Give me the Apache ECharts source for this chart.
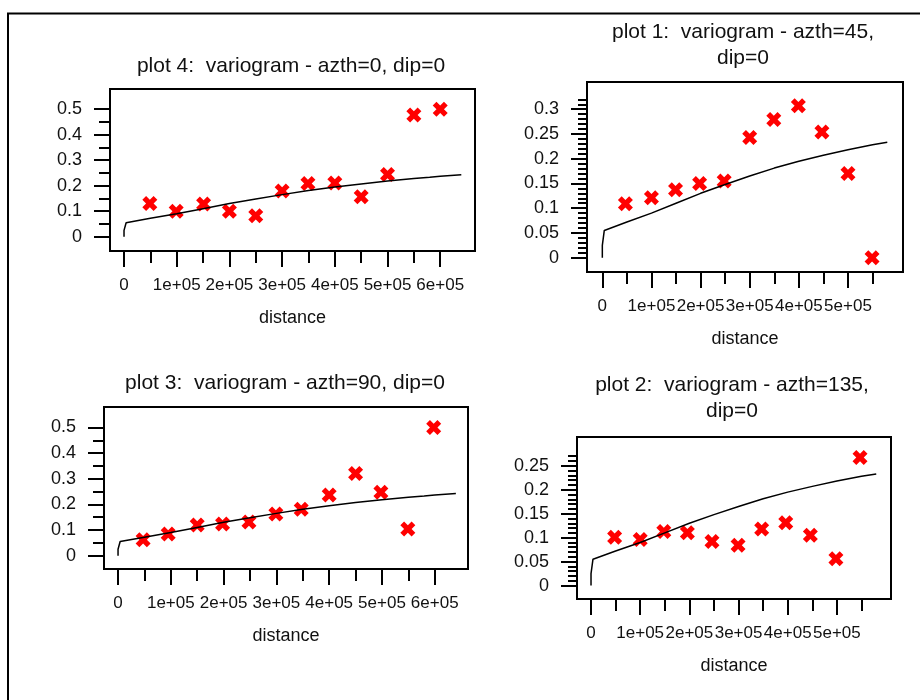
<!DOCTYPE html>
<html>
<head>
<meta charset="utf-8">
<title>variogram plots</title>
<script src="https://cdn.jsdelivr.net/npm/echarts@6/dist/echarts.min.js"></script>
<style>
  html, body { margin: 0; padding: 0; background: #fff; }
  #chart { width: 920px; height: 700px; }
</style>
</head>
<body>
<div id="chart"></div>
<script>
// panels in screen order: top-left, top-right, bottom-left, bottom-right
var panelTitles = [
  'plot 4:  variogram - azth=0, dip=0',
  'plot 1:  variogram - azth=45,\ndip=0',
  'plot 3:  variogram - azth=90, dip=0',
  'plot 2:  variogram - azth=135,\ndip=0'
]

// experimental variogram (lag distance, gamma)
var dist4 = [49000, 99000, 151000, 200000, 250000, 300000, 349000, 400000, 450000, 500000, 550000, 600000]
var gamma4 = [0.13, 0.10, 0.128, 0.10, 0.082, 0.179, 0.209, 0.211, 0.157, 0.244, 0.477, 0.50]

var dist1 = [47000, 100000, 149000, 198000, 248000, 300000, 349000, 399000, 447000, 500000, 549000]
var gamma1 = [0.109, 0.121, 0.137, 0.150, 0.155, 0.243, 0.279, 0.307, 0.254, 0.170, 0.0]

var dist3 = [47500, 95000, 150000, 198000, 248000, 299000, 347000, 400000, 450000, 498000, 549000, 598000]
var gamma3 = [0.062, 0.085, 0.12, 0.124, 0.131, 0.163, 0.181, 0.237, 0.321, 0.247, 0.104, 0.50]

var dist2 = [48000, 100000, 148000, 196000, 246000, 299000, 347000, 396000, 446000, 498000, 547000]
var gamma2 = [0.101, 0.096, 0.113, 0.110, 0.092, 0.084, 0.118, 0.131, 0.105, 0.056, 0.267]

// fitted model curve (same in every direction)
var modelDist = [0, 0, 4000, 50000, 100000, 150000, 200000, 250000, 300000, 350000, 400000, 450000, 500000, 550000, 580000, 600000, 640000]
var modelGamma = [0, 0.025, 0.055, 0.072, 0.09, 0.11, 0.13, 0.148, 0.165, 0.181, 0.195, 0.207, 0.218, 0.228, 0.233, 0.237, 0.243]
var modelEnd = [640000, 580000, 640000, 580000]

// tick values and labels
var xTickValues = [0, 100000, 200000, 300000, 400000, 500000, 600000]
var xTickText = ['0', '1e+05', '2e+05', '3e+05', '4e+05', '5e+05', '6e+05']
var xMajor = [xTickValues, xTickValues.slice(0, 6), xTickValues, xTickValues.slice(0, 6)]
var xMinorLong = [50000, 150000, 250000, 350000, 450000, 550000]
var xMinor = [xMinorLong, xMinorLong, xMinorLong, xMinorLong]

var yMajorA = [0, 0.1, 0.2, 0.3, 0.4, 0.5]
var yMinorA = [0.05, 0.15, 0.25, 0.35, 0.45]
var yMajor1 = [0, 0.05, 0.1, 0.15, 0.2, 0.25, 0.3]
var yMinor1 = [0.01, 0.02, 0.03, 0.04, 0.06, 0.07, 0.08, 0.09, 0.11, 0.12, 0.13, 0.14,
  0.16, 0.17, 0.18, 0.19, 0.21, 0.22, 0.23, 0.24, 0.26, 0.27, 0.28, 0.29, 0.31, 0.32]
var yMajor2 = [0, 0.05, 0.1, 0.15, 0.2, 0.25]
var yMinor2 = [0.01, 0.02, 0.03, 0.04, 0.06, 0.07, 0.08, 0.09, 0.11, 0.12, 0.13, 0.14,
  0.16, 0.17, 0.18, 0.19, 0.21, 0.22, 0.23, 0.24, 0.26, 0.27]
var yMajor = [yMajorA, yMajor1, yMajorA, yMajor2]
var yMinor = [yMinorA, yMinor1, yMinorA, yMinor2]

var dists = [dist4, dist1, dist3, dist2]
var gammas = [gamma4, gamma1, gamma3, gamma2]

// panel boxes and axis ranges
var layout = [
  { left: 110, top: 89, width: 365, height: 162, xMin: -26600, xMax: 666000, yMin: -0.056, yMax: 0.579, minorLen: 11, titleX: 291, titleY: 53 },
  { left: 587, top: 82, width: 316, height: 190, xMin: -31200, xMax: 612000, yMin: -0.029, yMax: 0.355, minorLen: 9, titleX: 743, titleY: 19 },
  { left: 104, top: 407, width: 364, height: 162, xMin: -26600, xMax: 663000, yMin: -0.052, yMax: 0.58, minorLen: 11, titleX: 285, titleY: 370 },
  { left: 577, top: 437, width: 314, height: 162, xMin: -28500, xMax: 610000, yMin: -0.028, yMax: 0.31, minorLen: 9, titleX: 732, titleY: 372 }
]

var FONT = '"Liberation Sans", Arial, sans-serif'
var TXT = '#111'
var tickStyle = { color: '#000', width: 2 }
var noLine = { show: false, onZero: false }
// chunky red X marker
var crossPath = 'path://M0,3 L3,0 L6,3 L9,0 L12,3 L9,6 L12,9 L9,12 L6,9 L3,12 L0,9 L3,6 Z'

var titles = []
var grids = []
var xAxes = []
var yAxes = []
var series = []

layout.forEach(function (p, i) {
  titles.push({
    text: panelTitles[i],
    left: p.titleX,
    top: p.titleY,
    textAlign: 'center',
    padding: 0,
    textStyle: { fontFamily: FONT, fontSize: 21, fontWeight: 'normal', color: TXT, lineHeight: 26 }
  })
  grids.push({
    left: p.left, top: p.top, width: p.width, height: p.height,
    show: true, borderColor: '#000', borderWidth: 2, backgroundColor: '#fff',
    containLabel: false, outerBoundsMode: 'none'
  })
  // major x ticks + labels
  xAxes.push({
    gridIndex: i, type: 'value', position: 'bottom', offset: 0,
    min: p.xMin, max: p.xMax,
    axisLine: noLine, splitLine: { show: false },
    axisTick: { customValues: xMajor[i], length: 16, lineStyle: tickStyle },
    axisLabel: {
      customValues: xMajor[i], margin: 26, fontFamily: FONT, fontSize: 17, color: TXT,
      formatter: function (v) { return xTickText[xTickValues.indexOf(v)] }
    },
    name: 'distance', nameLocation: 'middle', nameGap: 58,
    nameTextStyle: { fontFamily: FONT, fontSize: 18, color: TXT }
  })
  // minor x ticks
  xAxes.push({
    gridIndex: i, type: 'value', position: 'bottom', offset: 0,
    min: p.xMin, max: p.xMax,
    axisLine: noLine, splitLine: { show: false },
    axisTick: { customValues: xMinor[i], length: 12, lineStyle: tickStyle },
    axisLabel: { show: false }
  })
  yAxes.push({
    gridIndex: i, type: 'value', position: 'left', offset: 0,
    min: p.yMin, max: p.yMax,
    axisLine: noLine, splitLine: { show: false },
    axisTick: { customValues: yMajor[i], length: 16, lineStyle: tickStyle },
    axisLabel: { customValues: yMajor[i], margin: 28, fontFamily: FONT, fontSize: 18, color: TXT }
  })
  yAxes.push({
    gridIndex: i, type: 'value', position: 'left', offset: 0,
    min: p.yMin, max: p.yMax,
    axisLine: noLine, splitLine: { show: false },
    axisTick: { customValues: yMinor[i], length: p.minorLen, lineStyle: tickStyle },
    axisLabel: { show: false }
  })

  series.push({
    type: 'scatter',
    xAxisIndex: 2 * i, yAxisIndex: 2 * i,
    symbol: crossPath, symbolSize: 15,
    itemStyle: { color: '#ff0000', opacity: 1 },
    z: 2,
    data: dists[i].map(function (d, k) { return [d, gammas[i][k]] })
  })
  var model = []
  modelDist.forEach(function (d, k) {
    if (d <= modelEnd[i]) model.push([d, modelGamma[k]])
  })
  series.push({
    type: 'line',
    xAxisIndex: 2 * i, yAxisIndex: 2 * i,
    showSymbol: false, symbol: 'none',
    lineStyle: { color: '#000', width: 1.5 },
    z: 3,
    data: model
  })
})

var chart = echarts.init(document.getElementById('chart'))
chart.setOption({
  backgroundColor: '#fff',
  animation: false,
  title: titles,
  grid: grids,
  xAxis: xAxes,
  yAxis: yAxes,
  series: series,
  graphic: [{
    type: 'rect',
    shape: { x: 8, y: 13.5, width: 1000, height: 1000 },
    style: { fill: null, stroke: '#000', lineWidth: 2 },
    silent: true
  }]
})
</script>
</body>
</html>
